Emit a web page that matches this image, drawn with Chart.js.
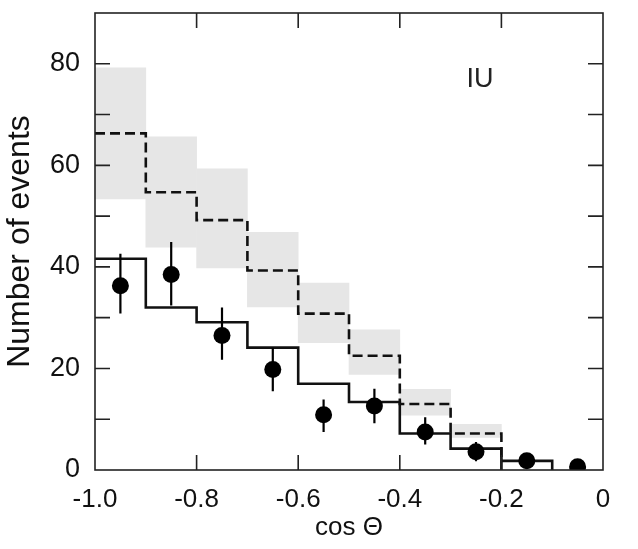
<!DOCTYPE html>
<html>
<head>
<meta charset="utf-8">
<script src="https://cdn.jsdelivr.net/npm/chart.js@4/dist/chart.umd.min.js"></script>
<style>
  html, body { margin: 0; padding: 0; background: #fff; }
  #wrap { width: 638px; height: 549px; }
</style>
</head>
<body>
<div id="wrap"><canvas id="chart"></canvas></div>
<script>
// bin edges of the histograms (cos Theta)
var binEdges = [-1.0, -0.9, -0.8, -0.7, -0.6, -0.5, -0.4, -0.3, -0.2, -0.1];

// expectation without oscillation (dashed) and its uncertainty band (grey boxes)
var noOscValues = [66.3, 54.7, 49.2, 39.3, 30.8, 22.5, 13.0, 7.2];
var bandLow = [53.4, 43.9, 39.8, 32.1, 25.1, 18.8, 10.8, 6.4];
var bandHigh = [79.2, 65.6, 59.3, 46.8, 36.8, 27.6, 15.9, 9.0];

// best fit with oscillation (solid)
var oscValues = [41.6, 32.0, 29.1, 24.1, 17.0, 13.4, 7.2, 4.2, 1.8];

// data points with error bars
var dataX = [-0.95, -0.85, -0.75, -0.65, -0.55, -0.45, -0.35, -0.25, -0.15, -0.05];
var dataY = [36.3, 38.5, 26.5, 19.8, 10.9, 12.6, 7.5, 3.6, 1.8, 0.65];
var errUp = [6.3, 6.4, 5.5, 4.3, 3.0, 3.4, 2.9, 1.9, 1.3, 0.8];
var errDown = [5.5, 6.1, 4.8, 4.3, 3.4, 3.4, 2.5, 1.9, 1.3, 0.8];

var xTicks = [-1.0, -0.8, -0.6, -0.4, -0.2, 0];
var yTicks = [0, 20, 40, 60, 80];

var FONT = '"Liberation Sans", Arial, Helvetica, sans-serif';

// step histogram as points for a stepped line
function stepPoints(values) {
    var pts = [];
    for (var i = 0; i < values.length; i++) {
        pts.push({ x: binEdges[i], y: values[i] });
    }
    pts.push({ x: binEdges[values.length], y: 0 });
    return pts;
}

var boxes = bandLow.map(function (lo, i) {
    return { x: (binEdges[i] + binEdges[i + 1]) / 2, y: [lo, bandHigh[i]] };
});

var errSegments = [];
dataX.forEach(function (x, i) {
    errSegments.push({ x: x, y: dataY[i] - errDown[i] });
    errSegments.push({ x: x, y: dataY[i] + errUp[i] });
    errSegments.push({ x: x, y: null });
});

// frame, inward ticks and the "IU" label
var framePlugin = {
    id: 'frame',
    afterDatasetsDraw: function (chart) {
        var ctx = chart.ctx;
        var a = chart.chartArea;
        var xs = chart.scales.x, ys = chart.scales.y;
        var len = 15;
        ctx.save();
        ctx.strokeStyle = '#222';
        ctx.lineWidth = 1.6;
        ctx.strokeRect(a.left, a.top, a.right - a.left, a.bottom - a.top);
        ctx.beginPath();
        [-0.8, -0.6, -0.4, -0.2].forEach(function (v) {
            var px = xs.getPixelForValue(v);
            ctx.moveTo(px, a.bottom); ctx.lineTo(px, a.bottom - len);
            ctx.moveTo(px, a.top); ctx.lineTo(px, a.top + len);
        });
        for (var v = 10; v <= 80; v += 10) {
            var py = ys.getPixelForValue(v);
            ctx.moveTo(a.left, py); ctx.lineTo(a.left + len, py);
            ctx.moveTo(a.right, py); ctx.lineTo(a.right - len, py);
        }
        ctx.stroke();
        ctx.fillStyle = '#222';
        ctx.font = '27px ' + FONT;
        ctx.textAlign = 'center';
        ctx.textBaseline = 'middle';
        ctx.fillText('IU', xs.getPixelForValue(-0.242), ys.getPixelForValue(76.8));
        ctx.restore();
    }
};

new Chart(document.getElementById('chart').getContext('2d'), {
    data: {
        datasets: [
            {
                type: 'bar',
                data: boxes,
                backgroundColor: '#e6e6e6',
                borderWidth: 0,
                barPercentage: 1.0,
                categoryPercentage: 1.0,
                order: 10
            },
            {
                type: 'line',
                data: stepPoints(noOscValues),
                stepped: 'before',
                borderColor: '#111',
                borderWidth: 2.6,
                borderDash: [10, 5],
                pointRadius: 0,
                fill: false,
                order: 5
            },
            {
                type: 'line',
                data: stepPoints(oscValues),
                stepped: 'before',
                borderColor: '#111',
                borderWidth: 2.6,
                pointRadius: 0,
                fill: false,
                order: 4
            },
            {
                type: 'line',
                data: errSegments,
                spanGaps: false,
                borderColor: '#000',
                borderWidth: 2.2,
                pointRadius: 0,
                fill: false,
                order: 2
            },
            {
                type: 'scatter',
                data: dataX.map(function (x, i) { return { x: x, y: dataY[i] }; }),
                pointRadius: 8.5,
                pointBackgroundColor: '#000',
                pointBorderWidth: 0,
                order: 1
            }
        ]
    },
    options: {
        responsive: true,
        maintainAspectRatio: false,
        animation: false,
        layout: { padding: { left: 0, right: 35, top: 13, bottom: 0 } },
        plugins: { legend: { display: false }, tooltip: { enabled: false } },
        scales: {
            x: {
                type: 'linear',
                min: -1.0,
                max: 0,
                offset: false,
                afterFit: function (s) { s.height = 79; s.paddingLeft = 0; s.paddingRight = 0; },
                afterBuildTicks: function (s) { s.ticks = xTicks.map(function (v) { return { value: v }; }); },
                grid: { display: false, drawTicks: false },
                border: { display: false },
                ticks: {
                    padding: 14,
                    color: '#111',
                    font: { family: FONT, size: 26 },
                    maxRotation: 0,
                    callback: function (v) { return v === 0 ? '0' : v.toFixed(1); }
                },
                title: {
                    display: true,
                    text: 'cos Θ',
                    color: '#111',
                    font: { family: FONT, size: 26 },
                    padding: { top: 0, bottom: 6 }
                }
            },
            y: {
                min: 0,
                max: 90,
                afterFit: function (s) { s.width = 95; s.paddingTop = 0; s.paddingBottom = 0; },
                afterBuildTicks: function (s) { s.ticks = yTicks.map(function (v) { return { value: v }; }); },
                grid: { display: false, drawTicks: false },
                border: { display: false },
                ticks: {
                    padding: 15,
                    color: '#111',
                    font: { family: FONT, size: 27 }
                },
                title: {
                    display: true,
                    text: 'Number of events',
                    color: '#111',
                    font: { family: FONT, size: 32 },
                    padding: { top: 1, bottom: 0 }
                }
            }
        }
    },
    plugins: [framePlugin]
});
</script>
</body>
</html>
